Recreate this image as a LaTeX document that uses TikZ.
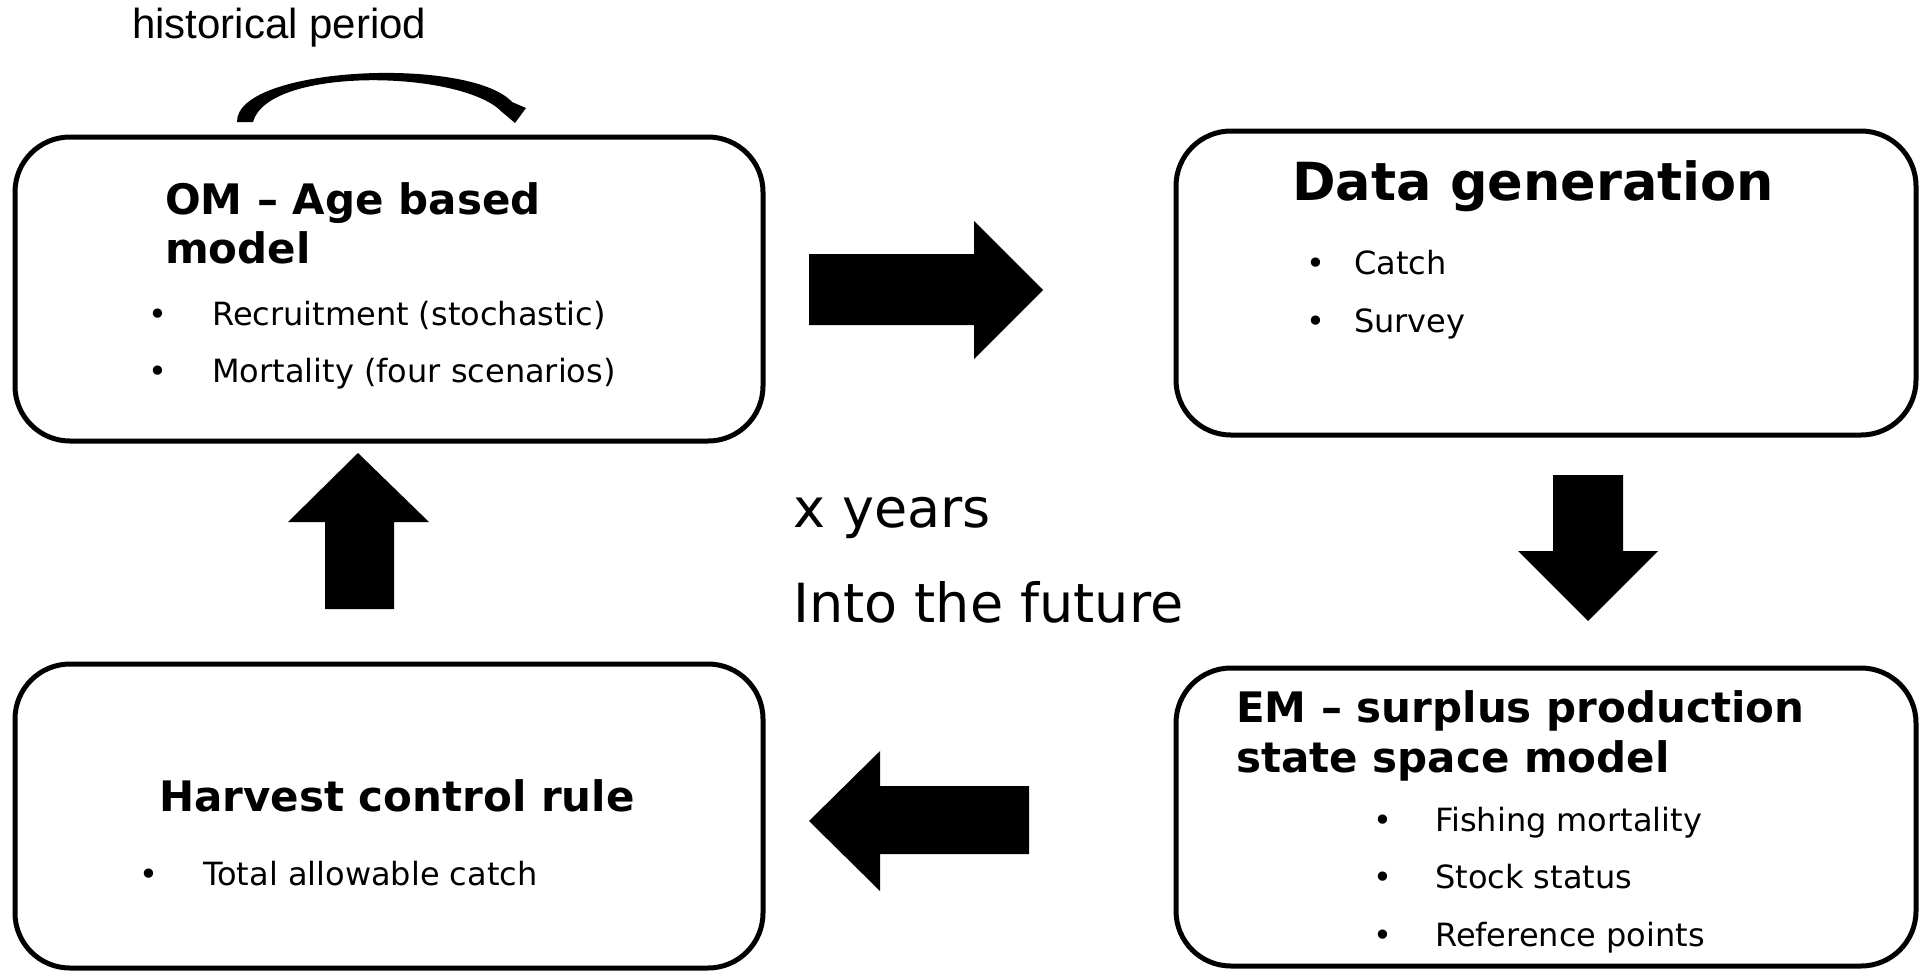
\documentclass[tikz,border=0pt]{standalone}
\usepackage{fontspec}
\setmainfont{DejaVu Sans}
\newfontfamily\arialfont{Liberation Sans}
\usetikzlibrary{arrows.meta}
\begin{document}
\begin{tikzpicture}[x=1pt,y=-1pt,
  box/.style={draw, line width=5pt, rounded corners=55pt, inner sep=0pt},
  txt/.style={anchor=base west, inner sep=0pt, font=\fontsize{32}{38}\selectfont},
  ttl/.style={anchor=base west, inner sep=0pt, font=\fontsize{42}{49}\selectfont\bfseries},
  big/.style={anchor=base west, inner sep=0pt, font=\fontsize{54}{64}\selectfont},
  blk/.style={fill=black}]
\useasboundingbox (0,0) rectangle (1921,970);

% boxes
\node[box, minimum width=748pt, minimum height=304pt] (om) at (389,289) {};
\node[box, minimum width=740pt, minimum height=304pt] (dg) at (1546,283) {};
\node[box, minimum width=740pt, minimum height=298pt] (em) at (1546,817) {};
\node[box, minimum width=748pt, minimum height=304pt] (hcr) at (389,816) {};

% OM text
\node[ttl] (omt1) at (165,214) {OM – Age based};
\node[ttl] (omt2) at (165,263) {model};
\node[txt] (omb1) at (148,325) {•};
\node[txt] (omi1) at (212,325) {Recruitment (stochastic)};
\node[txt] (omb2) at (148,382) {•};
\node[txt] (omi2) at (212,382) {Mortality (four scenarios)};

% Data generation text
\node[ttl, font=\fontsize{52.5}{60}\selectfont\bfseries] (dgt) at (1292,200) {Data generation};
\node[txt] (dgb1) at (1306,274) {•};
\node[txt] (dgi1) at (1354,274) {Catch};
\node[txt] (dgb2) at (1306,332) {•};
\node[txt] (dgi2) at (1354,332) {Survey};

% EM text
\node[ttl] (emt1) at (1236,722) {EM – surplus production};
\node[ttl] (emt2) at (1236,772) {state space model};
\node[txt] (emb1) at (1373,831) {•};
\node[txt] (emi1) at (1435,831) {Fishing mortality};
\node[txt] (emb2) at (1373,888) {•};
\node[txt] (emi2) at (1435,888) {Stock status};
\node[txt] (emb3) at (1373,946) {•};
\node[txt] (emi3) at (1435,946) {Reference points};

% HCR text
\node[ttl] (hcrt) at (159,811) {Harvest control rule};
\node[txt] (hcrb) at (139,885) {•};
\node[txt] (hcri) at (203,885) {Total allowable catch};

% middle text
\node[big] (xy) at (793,527) {x years};
\node[big] (itf) at (793,622) {Into the future};

% historical period
\node[anchor=base west, inner sep=0pt, font=\arialfont\fontsize{42}{48}\selectfont] (hist) at (132,38) {historical period};
% tapered curved arrow
\fill[blk] (237,122) .. controls (236,66) and (470,56) .. (512,102)
  -- (526,108) -- (515,123) -- (502,112)
  .. controls (462,70) and (268,66) .. (253,122) -- cycle;

% block arrows
\fill[blk] (809,254) -- (974,254) -- (974,221) -- (1043,290) -- (974,359) -- (974,325) -- (809,325) -- cycle;
\fill[blk] (1553,475) -- (1623,475) -- (1623,551) -- (1658,551) -- (1588,621) -- (1518,551) -- (1553,551) -- cycle;
\fill[blk] (1029,786) -- (880,786) -- (880,751) -- (809,821) -- (880,891) -- (880,854) -- (1029,854) -- cycle;
\fill[blk] (325,609) -- (325,522) -- (288,522) -- (358,453) -- (429,522) -- (394,522) -- (394,609) -- cycle;
\end{tikzpicture}
\end{document}
